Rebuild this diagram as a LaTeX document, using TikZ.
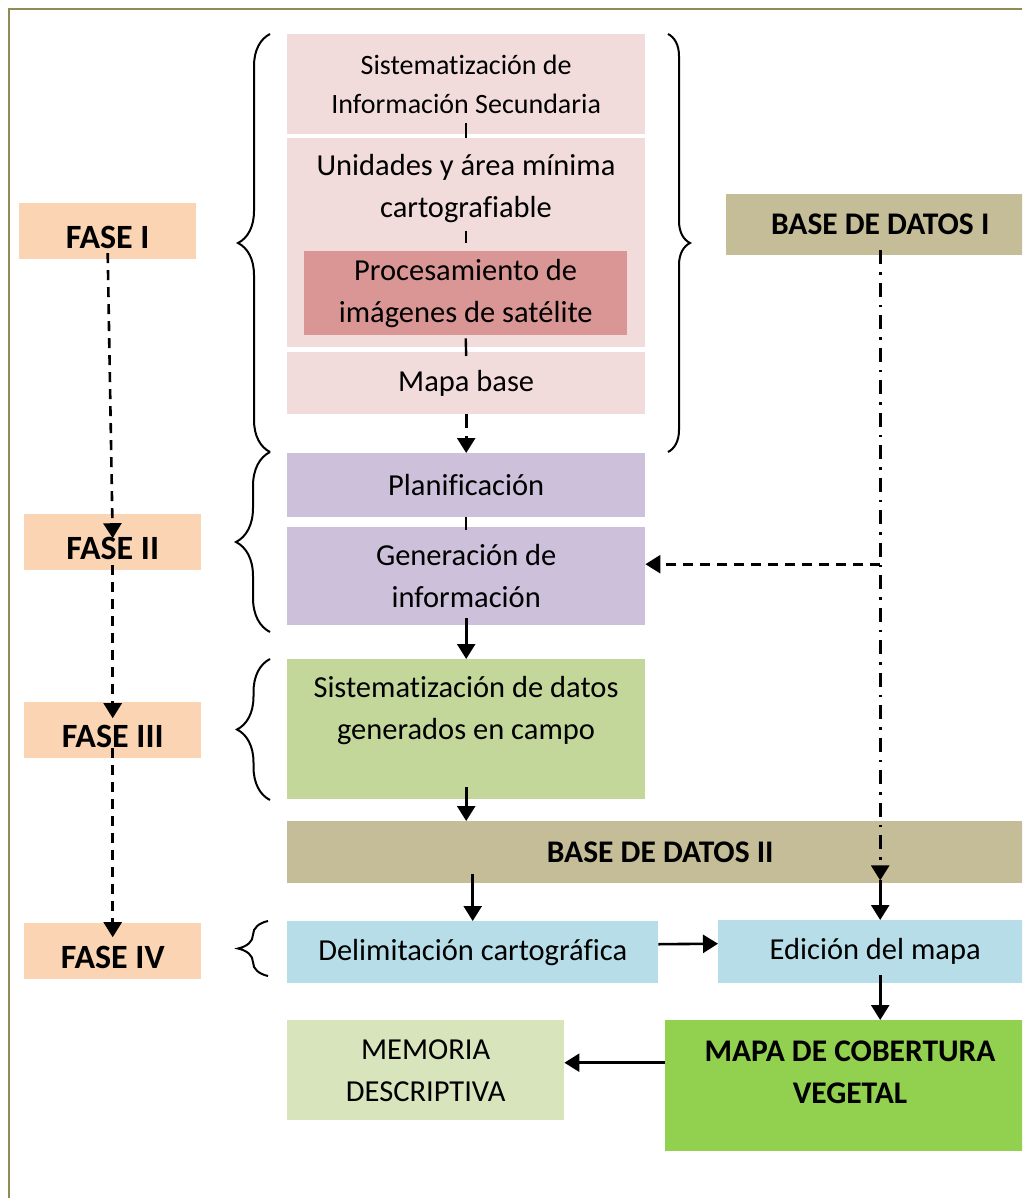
\documentclass[tikz,border=0pt]{standalone}
\usepackage{fontspec}
\setmainfont{Carlito}[Ligatures=NoCommon]
\usetikzlibrary{arrows.meta,decorations.pathreplacing}

\definecolor{peach}{HTML}{FBD4B4}
\definecolor{rosaclaro}{HTML}{F2DCDB}
\definecolor{rosaoscuro}{HTML}{D99694}
\definecolor{lila}{HTML}{CCC0DA}
\definecolor{verdeoliva}{HTML}{C4D79B}
\definecolor{arena}{HTML}{C4BD97}
\definecolor{celeste}{HTML}{B7DEE8}
\definecolor{verdevivo}{HTML}{92D050}
\definecolor{verdepalido}{HTML}{D8E4BC}
\definecolor{marco}{HTML}{948A54}

\newcommand{\fase}[1]{\raisebox{-6pt}[\height][\depth]{#1}}

\tikzset{
  box/.style={anchor=north west, inner sep=0pt, align=center, font=\fontsize{30.5}{42}\selectfont},
  txt/.style={inner sep=0pt, align=center, font=\fontsize{30.5}{42}\selectfont},
  bold/.style={font=\fontsize{31.5}{42}\selectfont\bfseries},
  fasebox/.style={box, fill=peach, minimum width=177, minimum height=56, font=\fontsize{34}{42}\selectfont\bfseries},
  tick/.style={line width=2.4pt},
  flecha/.style={line width=2.6pt, -{Triangle[length=15pt,width=18pt]}},
  rayas/.style={line width=2.6pt, dash pattern=on 10pt off 7pt, -{Triangle[length=15pt,width=18pt]}},
  rayapunto/.style={line width=2.6pt, dash pattern=on 14pt off 8pt on 2.5pt off 8pt, -{Triangle[length=15pt,width=18pt]}},
  llave/.style={line width=2pt, decorate, decoration={brace, amplitude=#1}}
}

\begin{document}
\begin{tikzpicture}[x=1pt,y=-1pt]
\useasboundingbox (0,0) rectangle (1022,1198);
\clip (0,0) rectangle (1022,1198);
\draw[marco, line width=2.5pt] (1040,9) -- (9,9) -- (9,1210);

\node[fasebox] (f1) at (19,203) {\fase{FASE I}};
\node[fasebox] (f2) at (24,514) {\fase{FASE II}};
\node[fasebox] (f3) at (24,702) {\fase{FASE III}};
\node[fasebox] (f4) at (24,923) {\fase{FASE IV}};

\node[box, fill=rosaclaro, minimum width=358, minimum height=100, font=\fontsize{28}{39}\selectfont] (sis) at (287,34) {Sistematización de\\Información Secundaria};
\node[box, fill=rosaclaro, minimum width=358, minimum height=209] (uni) at (287,138) {};
\node[txt] (unitxt) at (466,189) {Unidades y área mínima\\cartografiable};
\node[box, fill=rosaoscuro, minimum width=323, minimum height=84] (proc) at (304,251) {Procesamiento de\\imágenes de satélite};
\node[box, fill=rosaclaro, minimum width=358, minimum height=62] (mapa) at (287,352) {Mapa base};
\node[box, fill=lila, minimum width=358, minimum height=64] (plan) at (287,453) {Planificación};
\node[box, fill=lila, minimum width=358, minimum height=98] (gen) at (287,527) {Generación de\\información};
\node[box, fill=verdeoliva, minimum width=358, minimum height=140] (camp) at (287,659) {};
\node[txt] (camptxt) at (466,711) {Sistematización de datos\\generados en campo};
\node[box, bold, fill=arena, minimum width=308, minimum height=61] (bd1) at (726,194) {BASE DE DATOS I};
\node[box, bold, fill=arena, minimum width=746, minimum height=62] (bd2) at (287,821) {BASE DE DATOS II};
\node[box, fill=celeste, minimum width=371, minimum height=62] (delim) at (287,921) {Delimitación cartográfica};
\node[box, fill=celeste, minimum width=314, minimum height=63] (edic) at (718,920) {Edición del mapa};
\node[box, fill=verdevivo, minimum width=370, minimum height=131] (cob) at (665,1020) {};
\node[txt, bold] (cobtxt) at (850,1072) {MAPA DE COBERTURA\\VEGETAL};
\node[box, fill=verdepalido, minimum width=277, minimum height=100] (mem) at (287,1020) {MEMORIA\\DESCRIPTIVA};

\draw[tick] ([yshift=11]sis.south) -- (uni.north);
\draw[tick] ([yshift=20]proc.north) -- ([yshift=8]proc.north);
\draw[tick] ([yshift=-3]proc.south) -- ([yshift=-4]mapa.north);
\draw[tick] (plan.south) -- ([yshift=-3]gen.north);
\draw[rayapunto] (mapa.south) -- (plan.north);
\draw[flecha] ([yshift=7]gen.south) -- (camp.north);
\draw[flecha] ([yshift=12]camp.south) -- (bd2.north -| camp.south);
\draw[flecha] ([yshift=9]bd2.south -| delim.north) -- (delim.north);
\draw[flecha] ([yshift=8]delim.east) -- ([yshift=8]edic.west);
\draw[rayapunto] ([yshift=5]bd1.south) -- ([yshift=3]bd2.south -| bd1.south);
\draw[flecha] ([yshift=3]bd2.south -| bd1.south) -- (edic.north -| bd1.south);
\draw[rayas] ([yshift=12]gen.east -| bd1.south) -- ([yshift=12]gen.east);
\draw[flecha] ([yshift=8]edic.south -| bd1.south) -- (cob.north -| bd1.south);
\draw[flecha] ([yshift=23]cob.west) -- ([yshift=23]cob.west -| mem.east);

\draw[rayas] ([yshift=-22]f1.center) -- ([yshift=4]f2.center);
\draw[rayas] ([yshift=-23]f2.center) -- ([yshift=12]f3.center);
\draw[rayas] ([yshift=-18]f3.center) -- ([yshift=14]f4.center);

\draw[llave=32] (270,452) -- (270,34);
\draw[llave=22] (668,34) -- (668,452);
\draw[llave=34] (270,632) -- (270,452);
\draw[llave=33] (270,800) -- (270,659);
\draw[llave=30] (268,976) -- (268,921);
\end{tikzpicture}
\end{document}
